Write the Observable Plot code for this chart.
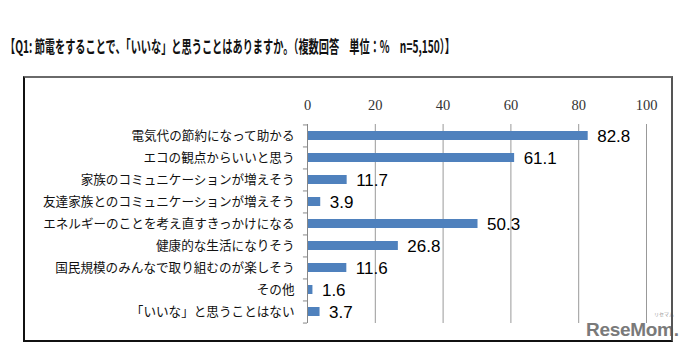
<!DOCTYPE html>
<html>
<head>
<meta charset="utf-8">
<script src="https://cdn.jsdelivr.net/npm/d3@7"></script>
<script src="https://cdn.jsdelivr.net/npm/@observablehq/plot@0.6"></script>
<style>
  html, body { margin: 0; padding: 0; background: #fff; }
  body { width: 684px; height: 351px; position: relative; overflow: hidden; }
  #title { position: absolute; left: 5px; top: 37px; font-family: "Noto Sans CJK JP", sans-serif; font-weight: bold; font-size: 17px; line-height: 1; white-space: nowrap; color: #111; transform-origin: left top; }
  #chart { position: absolute; left: 22px; top: 75px; width: 652px; height: 268px; }
  #chart svg { display: block; }
  #box { position: absolute; left: 23px; top: 76px; width: 646px; height: 262px; border-style: solid; border-width: 2px; border-color: #6a6a6a #555 #111 #111; z-index: 10; }
  #mark { position: absolute; left: 586px; top: 319px; font-family: "Liberation Sans", Arial, sans-serif; font-weight: bold; font-size: 19px; color: #7a7a7a; letter-spacing: -0.3px; z-index: 5; }
  #mark2 { position: absolute; left: 654px; top: 311px; font-family: "Noto Sans CJK JP", sans-serif; font-size: 5px; line-height: 1; color: #999; z-index: 5; }
</style>
</head>
<body>
<div id="title">【Q1: 節電をすることで、「いいな」と思うことはありますか。（複数回答　単位：%　n=5,150）】</div>
<div id="chart"></div>
<div id="box"></div>
<div id="mark">ReseMom.</div>
<div id="mark2">リセマム</div>
<script>
const categories = [
  "電気代の節約になって助かる",
  "エコの観点からいいと思う",
  "家族のコミュニケーションが増えそう",
  "友達家族とのコミュニケーションが増えそう",
  "エネルギーのことを考え直すきっかけになる",
  "健康的な生活になりそう",
  "国民規模のみんなで取り組むのが楽しそう",
  "その他",
  "「いいな」と思うことはない"
];
const values = [82.8, 61.1, 11.7, 3.9, 50.3, 26.8, 11.6, 1.6, 3.7];
const xTicks = [0, 20, 40, 60, 80, 100];

const data = categories.map((c, i) => ({category: c, value: values[i]}));

// fit title width
const t = document.getElementById("title");
const w = t.getBoundingClientRect().width;
t.style.transform = `scaleX(${450 / w})`;

const W = 652, H = 268;
const mL = 285, mR = 28, mT = 49, mB = 20;
const step = (H - mT - mB) / categories.length;

const chart = Plot.plot({
  width: W,
  height: H,
  marginLeft: mL,
  marginRight: mR,
  marginTop: mT,
  marginBottom: mB,
  style: {background: "transparent", overflow: "visible"},
  x: {domain: [0, 100]},
  y: {domain: categories, paddingInner: 0.59, paddingOuter: 0.295, align: 0.5},
  marks: [
    Plot.gridX(xTicks.filter(d => d > 0), {stroke: "#999", strokeOpacity: 1, strokeWidth: 1}),
    Plot.axisX(xTicks, {anchor: "top", tickSize: 0, tickPadding: 15, fontSize: 14.5, fontFamily: "Liberation Serif, serif", fill: "#333", label: null}),
    Plot.barX(data, {x: "value", y: "category", fill: "#4f81bd"}),
    Plot.ruleX([0], {stroke: "#888", strokeWidth: 1}),
    Plot.ruleY(categories, {y: d => d, x1: -1.2, x2: 0, dy: -step / 2, stroke: "#888"}),
    Plot.ruleY(categories.slice(-1), {y: d => d, x1: -1.2, x2: 0, dy: step / 2, stroke: "#888"}),
    Plot.axisY({anchor: "left", tickSize: 0, tickPadding: 13, fontSize: 12.6, fontFamily: "Noto Sans CJK JP, sans-serif", fill: "#111", label: null}),
    Plot.text(data, {x: "value", y: "category", text: d => d.value.toFixed(1), textAnchor: "start", dx: 9, dy: 1, fontSize: 17, fontFamily: "Liberation Sans, Arial, sans-serif", fill: "#000"})
  ]
});
document.getElementById("chart").appendChild(chart);
</script>
</body>
</html>
